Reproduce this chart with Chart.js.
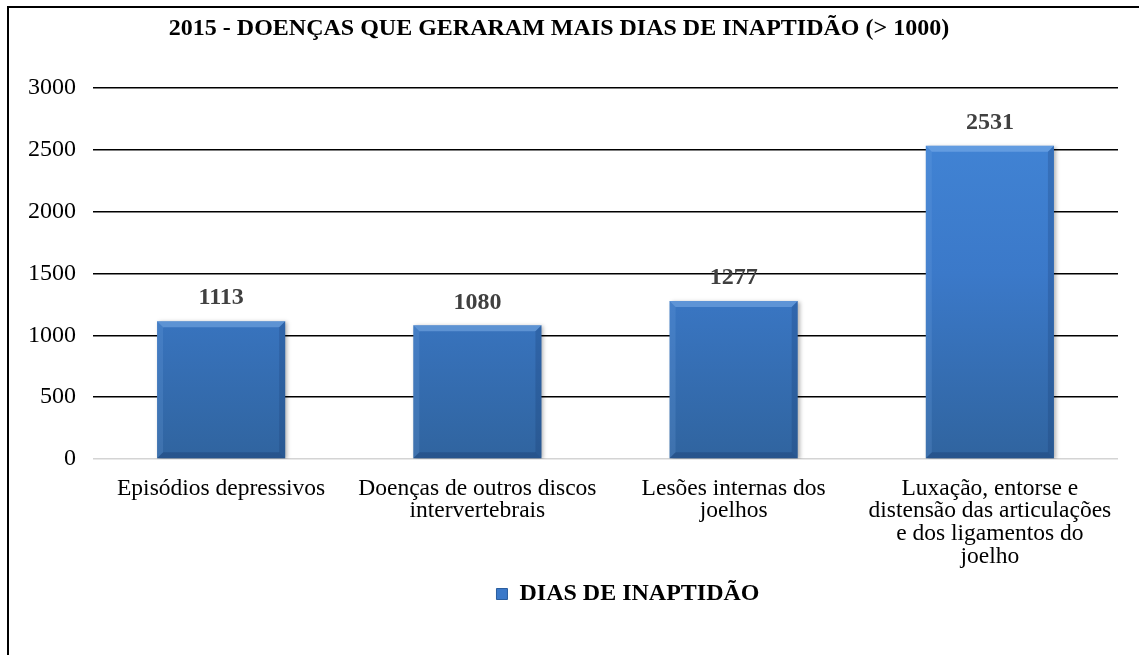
<!DOCTYPE html>
<html>
<head>
<meta charset="utf-8">
<script src="https://cdn.jsdelivr.net/npm/chart.js@4/dist/chart.umd.min.js"></script>
<style>
  html, body { margin: 0; padding: 0; background: #fff; }
  #wrap { width: 1139px; height: 655px; }
</style>
</head>
<body>
<div id="wrap"><canvas id="grafico"></canvas></div>
<script>
// datos
const categorias = [
    'Episódios depressivos',
    ['Doenças de outros discos', 'intervertebrais'],
    ['Lesões internas dos', 'joelhos'],
    ['Luxação, entorse e', 'distensão das articulações', 'e dos ligamentos do', 'joelho']
];
const diasInaptidao = [1113, 1080, 1277, 2531];
const ticksY = [0, 500, 1000, 1500, 2000, 2500, 3000];

const fuente = 'Liberation Serif, Times New Roman, serif';

function degradado(ctx, area) {
    const g = ctx.createLinearGradient(0, area.top, 0, area.bottom);
    g.addColorStop(0, '#4387d8');
    g.addColorStop(0.5, '#3b79c9');
    g.addColorStop(1, '#30649f');
    return g;
}

// marco (solo arriba e izquierda)
const marco = {
    id: 'marco',
    afterDraw(chart) {
        const ctx = chart.ctx;
        ctx.save();
        ctx.strokeStyle = '#000';
        ctx.lineWidth = 2;
        ctx.beginPath();
        ctx.moveTo(8, 655);
        ctx.lineTo(8, 7);
        ctx.lineTo(1139, 7);
        ctx.stroke();
        ctx.restore();
    }
};

// la leyenda va un poco a la derecha
const moverLeyenda = {
    id: 'moverLeyenda',
    afterLayout(chart) {
        chart.legend.left += 69;
        chart.legend.right += 69;
    }
};

// bisel de las barras + etiquetas de valores
const etiquetas = {
    id: 'etiquetas',
    afterDatasetsDraw(chart) {
        const ctx = chart.ctx;
        ctx.save();
        chart.getDatasetMeta(0).data.forEach((bar) => {
            const l = bar.x - bar.width / 2, r = bar.x + bar.width / 2;
            const t = bar.y, b = bar.base, e = 6;
            // arriba
            ctx.fillStyle = 'rgba(150,195,245,0.4)';
            ctx.beginPath();
            ctx.moveTo(l, t); ctx.lineTo(r, t); ctx.lineTo(r - e, t + e); ctx.lineTo(l + e, t + e);
            ctx.fill();
            // izquierda
            ctx.fillStyle = 'rgba(120,170,230,0.2)';
            ctx.beginPath();
            ctx.moveTo(l, t); ctx.lineTo(l + e, t + e); ctx.lineTo(l + e, b - e); ctx.lineTo(l, b);
            ctx.fill();
            // derecha
            ctx.fillStyle = 'rgba(20,50,100,0.22)';
            ctx.beginPath();
            ctx.moveTo(r, t); ctx.lineTo(r - e, t + e); ctx.lineTo(r - e, b - e); ctx.lineTo(r, b);
            ctx.fill();
            // abajo
            ctx.fillStyle = 'rgba(20,50,100,0.3)';
            ctx.beginPath();
            ctx.moveTo(l, b); ctx.lineTo(r, b); ctx.lineTo(r - e, b - e); ctx.lineTo(l + e, b - e);
            ctx.fill();
        });
        ctx.font = 'bold 24px ' + fuente;
        ctx.fillStyle = '#404040';
        ctx.textAlign = 'center';
        ctx.textBaseline = 'middle';
        chart.getDatasetMeta(0).data.forEach((bar, i) => {
            ctx.fillText(diasInaptidao[i], bar.x, bar.y - 23);
        });
        ctx.restore();
    }
};

// sombra de las barras
const sombra = {
    id: 'sombra',
    beforeDatasetsDraw(chart) {
        const ctx = chart.ctx;
        ctx.save();
        ctx.shadowColor = 'rgba(0,0,0,0.3)';
        ctx.shadowBlur = 4;
        ctx.shadowOffsetX = 2;
        ctx.shadowOffsetY = 1;
    },
    afterDatasetsDraw(chart) {
        chart.ctx.restore();
    }
};

new Chart(document.getElementById('grafico'), {
    type: 'bar',
    data: {
        labels: categorias,
        datasets: [{
            label: 'DIAS DE INAPTIDÃO',
            data: diasInaptidao,
            backgroundColor: (c) => {
                const area = c.chart.chartArea;
                if (!area) return '#3b79c9';
                return degradado(c.chart.ctx, area);
            },
            borderWidth: 0,
            categoryPercentage: 1,
            barPercentage: 0.5
        }]
    },
    options: {
        responsive: true,
        maintainAspectRatio: false,
        animation: false,
        layout: { padding: { left: 0, right: 21, top: 0, bottom: 39 } },
        plugins: {
            title: {
                display: true,
                text: '2015 - DOENÇAS QUE GERARAM MAIS DIAS DE INAPTIDÃO (> 1000)',
                color: '#000',
                font: { family: fuente, size: 24, weight: 'bold' },
                padding: { top: 14, bottom: 45 }
            },
            legend: {
                position: 'bottom',
                labels: {
                    color: '#000',
                    font: { family: fuente, size: 24, weight: 'bold' },
                    boxWidth: 11,
                    boxHeight: 11,
                    padding: 10,
                    generateLabels: () => [{
                        text: 'DIAS DE INAPTIDÃO',
                        fillStyle: '#3b79c9',
                        strokeStyle: '#2b5e9f',
                        lineWidth: 1,
                        datasetIndex: 0
                    }]
                }
            },
            tooltip: { enabled: false }
        },
        scales: {
            x: {
                grid: { display: false },
                border: { display: false },
                afterFit: (axis) => { axis.height = 113; },
                ticks: {
                    color: '#000',
                    font: { family: fuente, size: 23.5, lineHeight: 0.97 },
                    padding: 10,
                    maxRotation: 0
                }
            },
            y: {
                min: 0,
                max: 3000,
                afterBuildTicks: (axis) => { axis.ticks = ticksY.map(v => ({ value: v })); },
                afterFit: (axis) => { axis.width = 93; },
                border: { display: false },
                grid: {
                    color: (c) => c.tick.value === 0 ? '#d4d4d4' : '#000',
                    lineWidth: 1.5,
                    drawTicks: false
                },
                ticks: {
                    color: '#000',
                    font: { family: fuente, size: 24 },
                    padding: 17,
                    callback: (v) => String(v)
                }
            }
        }
    },
    plugins: [sombra, etiquetas, moverLeyenda, marco]
});
</script>
</body>
</html>
